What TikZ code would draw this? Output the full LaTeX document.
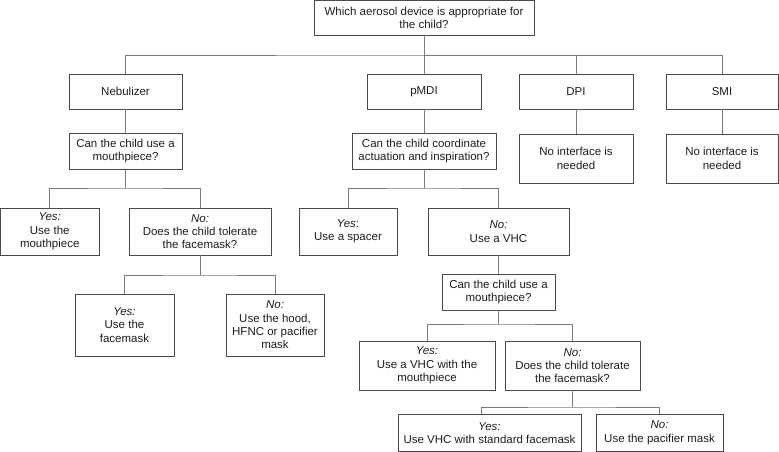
\documentclass[tikz,border=0pt]{standalone}
\usepackage{fontspec}
\setmainfont{Liberation Sans}
\definecolor{boxc}{HTML}{4A4A4A}
\definecolor{linec}{HTML}{7A7A7A}
\definecolor{txt}{HTML}{1E1E1E}
\begin{document}
\begin{tikzpicture}[x=1bp,y=-1bp,
  box/.style={draw=boxc, line width=0.9bp, fill=white, inner sep=0pt, align=center,
    font=\fontsize{11.5bp}{13.3bp}\selectfont, text=txt},
  conn/.style={draw=linec, line width=0.9bp}]
\useasboundingbox (0,0) rectangle (779,452);
% level 0
\node[box, minimum width=220bp, minimum height=34.5bp] (top) at (424,17.75) {Which aerosol device is appropriate for\\the child?};
% level 1
\node[box, minimum width=113bp, minimum height=35bp] (neb) at (125.5,91.5) {Nebulizer};
\node[box, minimum width=114bp, minimum height=35bp] (pmdi) at (424,91.5) {pMDI};
\node[box, minimum width=114bp, minimum height=35bp] (dpi) at (576,91.5) {DPI};
\node[box, minimum width=112bp, minimum height=35bp] (smi) at (722,91.5) {SMI};
% level 2
\node[box, minimum width=113bp, minimum height=36bp] (q1) at (125.5,151) {Can the child use a\\mouthpiece?};
\node[box, minimum width=144bp, minimum height=36bp] (q2) at (424,151) {Can the child coordinate\\actuation and inspiration?};
\node[box, minimum width=114bp, minimum height=49bp] (dpia) at (576,158.5) {No interface is\\needed};
\node[box, minimum width=112bp, minimum height=49bp] (smia) at (722,158.5) {No interface is\\needed};
% level 3
\node[box, minimum width=98.5bp, minimum height=47bp] (yes1) at (49.75,231.5) {\textit{Yes:}\\Use the\\mouthpiece};
\node[box, minimum width=142bp, minimum height=47bp] (no1) at (200,231.5) {\textit{No:}\\Does the child tolerate\\the facemask?};
\node[box, minimum width=98bp, minimum height=47bp] (spacer) at (348,231.5) {\textit{Yes}:\\Use a spacer};
\node[box, minimum width=141bp, minimum height=47bp] (vhc) at (498.5,231.5) {\textit{No:}\\Use a VHC};
% level 4
\node[box, minimum width=99bp, minimum height=62bp] (yes2) at (124.5,325) {\textit{Yes:}\\Use the\\facemask};
\node[box, minimum width=98bp, minimum height=62bp] (no2) at (275,325) {\textit{No:}\\Use the hood,\\HFNC or pacifier\\mask};
\node[box, minimum width=113bp, minimum height=36bp] (q3) at (498.5,292) {Can the child use a\\mouthpiece?};
% level 5
\node[box, minimum width=136bp, minimum height=49bp] (yes3) at (427,365.5) {\textit{Yes:}\\Use a VHC with the\\mouthpiece};
\node[box, minimum width=135bp, minimum height=49bp] (no3) at (572.5,365.5) {\textit{No:}\\Does the child tolerate\\the facemask?};
% level 6
\node[box, minimum width=183bp, minimum height=37.5bp] (yes4) at (489.5,432.75) {\textit{Yes:}\\Use VHC with standard facemask};
\node[box, minimum width=127bp, minimum height=37.5bp] (no4) at (659.5,432.75) {\textit{No:}\\Use the pacifier mask};
% connectors
\coordinate (b0) at (top.south |- 0,55);
\draw[conn] (top.south) -- (b0);
\draw[conn] (neb.north) |- (b0) -| (smi.north);
\draw[conn] (b0) -- (pmdi.north);
\draw[conn] (dpi.north) |- (b0);
\draw[conn] (neb.south) -- (q1.north);
\draw[conn] (pmdi.south) -- (q2.north);
\draw[conn] (dpi.south) -- (dpia.north);
\draw[conn] (smi.south) -- (smia.north);
\coordinate (b1) at (q1.south |- 0,188);
\draw[conn] (q1.south) -- (b1);
\draw[conn] (yes1.north) |- (b1) -| (no1.north);
\coordinate (b2) at (no1.south |- 0,275);
\draw[conn] (no1.south) -- (b2);
\draw[conn] (yes2.north) |- (b2) -| (no2.north);
\coordinate (b3) at (q2.south |- 0,188);
\draw[conn] (q2.south) -- (b3);
\draw[conn] (spacer.north) |- (b3) -| (vhc.north);
\draw[conn] (vhc.south) -- (q3.north);
\coordinate (b4) at (q3.south |- 0,324);
\draw[conn] (q3.south) -- (b4);
\draw[conn] (yes3.north) |- (b4) -| (no3.north);
\coordinate (b5) at (no3.south |- 0,407);
\coordinate (y4in) at (yes4.north -| 481.5,0);
\draw[conn] (no3.south) -- (b5);
\draw[conn] (y4in) |- (b5) -| (no4.north);
\end{tikzpicture}
\end{document}
